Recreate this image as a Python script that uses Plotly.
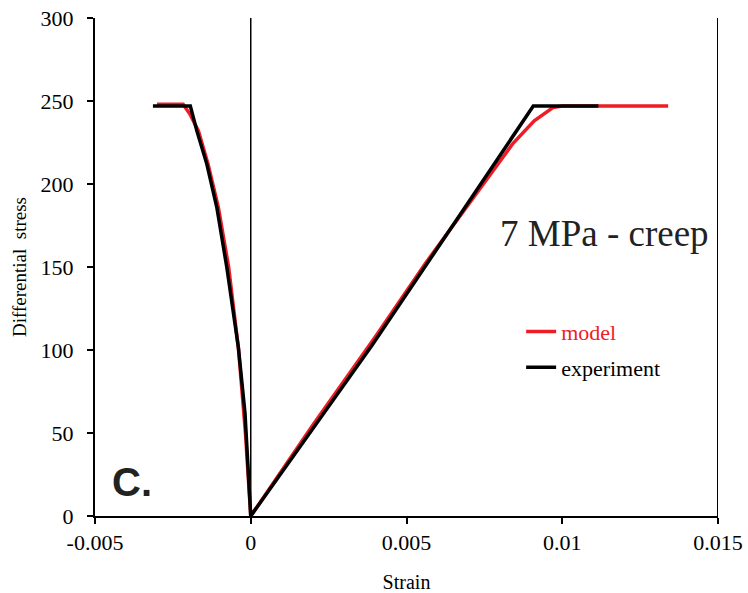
import plotly.graph_objects as go

# Model (red)
model_strain = [-0.00301, -0.00217, -0.00195, -0.00168, -0.00137, -0.00104, -0.00071, -0.00039, -0.00017, 0.0,
                0.0, 0.0020, 0.0040, 0.0056, 0.0066, 0.0074, 0.0084, 0.0091, 0.0097, 0.0100, 0.0134]
model_stress = [248, 248, 242, 232, 212, 186, 150, 100, 50, 0,
                0, 55, 108, 152, 178, 198, 224, 238, 246, 247, 247]

# Experiment (black)
exp_strain = [-0.00314, -0.00194, -0.00173, -0.00141, -0.00109, -0.00077, -0.00040, -0.000185, 0.0,
              0.0, 0.0039, 0.00907, 0.01116]
exp_stress = [247, 247, 232, 212, 186, 150, 102, 62, 0,
              0, 103, 247, 247]

x_ticks = [-0.005, 0, 0.005, 0.01, 0.015]
x_ticktext = ["-0.005", "0", "0.005", "0.01", "0.015"]
y_ticks = [0, 50, 100, 150, 200, 250, 300]

RED = "#ee1c25"
FONT = "Liberation Serif"

fig = go.Figure()
fig.add_trace(go.Scatter(x=model_strain, y=model_stress, mode="lines",
                         line=dict(color=RED, width=3.5), legendgroup="m",
                         name="<span style='color:#ee1c25'>model</span>"))
fig.add_trace(go.Scatter(x=exp_strain, y=exp_stress, mode="lines",
                         line=dict(color="black", width=3.5), legendgroup="e",
                         name="experiment"))

# vertical line at zero strain and right border
fig.add_shape(type="line", x0=0, x1=0, y0=0, y1=300, xref="x", yref="y",
              line=dict(color="black", width=1.5), layer="below")
fig.add_shape(type="line", x0=0.015, x1=0.015, y0=0, y1=300, xref="x", yref="y",
              line=dict(color="black", width=2))

fig.add_annotation(x=0.01137, y=170, xref="x", yref="y", text="7 MPa - creep",
                   showarrow=False, font=dict(family=FONT, size=37, color="#222"))
fig.add_annotation(x=0.024, y=0.02, xref="paper", yref="paper", text="<b>C.</b>",
                   showarrow=False, font=dict(family="Liberation Sans", size=40, color="#222"))

fig.update_layout(
    width=748, height=593,
    margin=dict(l=95, r=30, t=18, b=77),
    paper_bgcolor="white", plot_bgcolor="white",
    font=dict(family=FONT, size=22, color="black"),
    showlegend=True,
    legend=dict(x=0.684, y=0.412, xanchor="left", yanchor="top",
                bgcolor="rgba(0,0,0,0)", font=dict(family=FONT, size=22),
                tracegroupgap=4, itemwidth=30),
    xaxis=dict(range=[-0.005, 0.015], tickvals=x_ticks, ticktext=x_ticktext,
               showgrid=False, zeroline=False, showline=True, linecolor="black", linewidth=2,
               ticks="outside", ticklen=6, tickwidth=2, tickcolor="black", automargin=False,
               tickfont=dict(family=FONT, size=22),
               title=dict(text="Strain", font=dict(family=FONT, size=20), standoff=22)),
    yaxis=dict(range=[0, 300], tickvals=y_ticks,
               showgrid=False, zeroline=False, showline=True, linecolor="black", linewidth=2,
               ticks="outside", ticklen=6, tickwidth=2, tickcolor="black", automargin=False,
               tickfont=dict(family=FONT, size=22), ticklabelstandoff=9,
               title=dict(text="Differential\u00a0\u00a0stress", font=dict(family=FONT, size=19), standoff=9)),
)

fig.write_html("out.html")
